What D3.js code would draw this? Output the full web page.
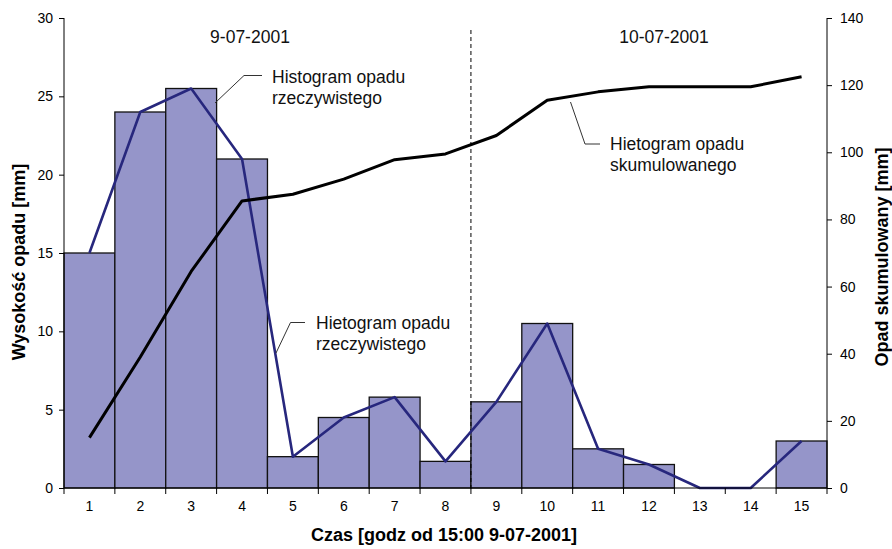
<!DOCTYPE html>
<html>
<head>
<meta charset="utf-8">
<script src="https://cdn.jsdelivr.net/npm/d3@7"></script>
<style>
  body { margin: 0; background: #fff; }
  svg text { font-family: Arial, "Liberation Sans", sans-serif; fill: #000; }
  .tick text { font-size: 14px; }
  .axis-title { font-size: 18px; font-weight: bold; }
  .note { font-size: 17.5px; fill: #111; }
</style>
</head>
<body>
<svg id="chart" width="892" height="549"></svg>
<script>
(function() {
    // hours after 15:00 9-07-2001
    var hours = ["1","2","3","4","5","6","7","8","9","10","11","12","13","14","15"];
    // rainfall per hour [mm]
    var rain = [15, 24, 25.5, 21, 2, 4.5, 5.8, 1.7, 5.5, 10.5, 2.5, 1.5, 0, 0, 3];
    // cumulative rainfall [mm]
    var cumulative = [15, 39, 64.5, 85.5, 87.5, 92, 97.8, 99.5, 105, 115.5, 118, 119.5, 119.5, 119.5, 122.5];
    var leftTicks = [0, 5, 10, 15, 20, 25, 30];
    var rightTicks = [0, 20, 40, 60, 80, 100, 120, 140];

    var left = 64, right = 827, top = 18, bottom = 488;
    const svg = d3.select("#chart");

    var x = d3.scaleBand().domain(hours).range([left, right]).padding(0);
    var y = d3.scaleLinear().domain([0, 30]).range([bottom, top]);
    var y2 = d3.scaleLinear().domain([0, 140]).range([bottom, top]);

    //bars
    svg.append("g")
        .selectAll("rect")
        .data(rain)
        .enter()
        .append("rect")
        .attr("x", (d, i) => x(hours[i]))
        .attr("y", (d) => y(d))
        .attr("width", x.bandwidth())
        .attr("height", (d) => bottom - y(d))
        .attr("fill", "#9595c9")
        .attr("stroke", "#111")
        .attr("stroke-width", 1.3);

    //day separator
    svg.append("line")
        .attr("x1", x("9")).attr("x2", x("9"))
        .attr("y1", 30).attr("y2", bottom)
        .attr("stroke", "#000")
        .attr("stroke-width", 1)
        .attr("stroke-dasharray", "4,3");

    var mid = (i) => x(hours[i]) + x.bandwidth() / 2;

    //hietogram line
    svg.append("path")
        .datum(rain)
        .attr("fill", "none")
        .attr("stroke", "#27277d")
        .attr("stroke-width", 2.6)
        .attr("stroke-linejoin", "round")
        .attr("d", d3.line().x((d, i) => mid(i)).y((d) => y(d)));

    //cumulative line
    svg.append("path")
        .datum(cumulative)
        .attr("fill", "none")
        .attr("stroke", "#000")
        .attr("stroke-width", 3)
        .attr("stroke-linejoin", "round")
        .attr("d", d3.line().x((d, i) => mid(i)).y((d) => y2(d)));

    //left axis
    svg.append("g")
        .attr("transform", `translate(${left},0)`)
        .call(d3.axisLeft(y).tickValues(leftTicks).tickSize(5).tickPadding(6))
        .call((g) => g.select(".domain").attr("d", `M0,${top}V${bottom}`));

    //right axis
    svg.append("g")
        .attr("transform", `translate(${right},0)`)
        .call(d3.axisRight(y2).tickValues(rightTicks).tickSize(5).tickPadding(8))
        .call((g) => g.select(".domain").attr("d", `M0,${top}V${bottom}`));

    //bottom axis: labels at centres, ticks at bar edges
    svg.append("g")
        .attr("transform", `translate(0,${bottom})`)
        .call(d3.axisBottom(x).tickSize(0).tickPadding(13))
        .call((g) => g.select(".domain").attr("d", `M${left},0H${right}`));

    svg.append("g")
        .selectAll("line")
        .data(hours.concat(["end"]))
        .enter()
        .append("line")
        .attr("x1", (d, i) => i < hours.length ? x(d) : right)
        .attr("x2", (d, i) => i < hours.length ? x(d) : right)
        .attr("y1", bottom).attr("y2", bottom + 6)
        .attr("stroke", "#000");

    svg.selectAll(".domain, .tick line").attr("stroke", "#000");

    //axis titles
    svg.append("text")
        .attr("class", "axis-title")
        .attr("x", 444).attr("y", 541)
        .attr("text-anchor", "middle")
        .text("Czas [godz od 15:00 9-07-2001]");

    svg.append("text")
        .attr("class", "axis-title")
        .attr("transform", "translate(25,262) rotate(-90)")
        .attr("text-anchor", "middle")
        .text("Wysokość opadu [mm]");

    svg.append("text")
        .attr("class", "axis-title")
        .attr("transform", "translate(888,257) rotate(-90)")
        .attr("text-anchor", "middle")
        .text("Opad skumulowany [mm]");

    //day labels
    svg.append("text").attr("class", "note").attr("x", 250).attr("y", 43)
        .attr("text-anchor", "middle").text("9-07-2001");
    svg.append("text").attr("class", "note").attr("x", 664).attr("y", 43)
        .attr("text-anchor", "middle").text("10-07-2001");

    //annotations with leader lines
    var notes = [
        {lines: ["Histogram opadu", "rzeczywistego"], tx: 272, ty: 83, path: "M262,75.5H244L215,103"},
        {lines: ["Hietogram opadu", "rzeczywistego"], tx: 316, ty: 329, path: "M305,322.5H290.5L276,353"},
        {lines: ["Hietogram opadu", "skumulowanego"], tx: 610, ty: 150, path: "M600,144H585L570.5,102"}
    ];
    notes.forEach((n) => {
        svg.append("path")
            .attr("d", n.path)
            .attr("fill", "none")
            .attr("stroke", "#333")
            .attr("stroke-width", 1);
        var t = svg.append("text").attr("class", "note").attr("x", n.tx).attr("y", n.ty);
        n.lines.forEach((l, i) => {
            t.append("tspan").attr("x", n.tx).attr("dy", i == 0 ? 0 : 21).text(l);
        });
    });
})();
</script>
</body>
</html>
